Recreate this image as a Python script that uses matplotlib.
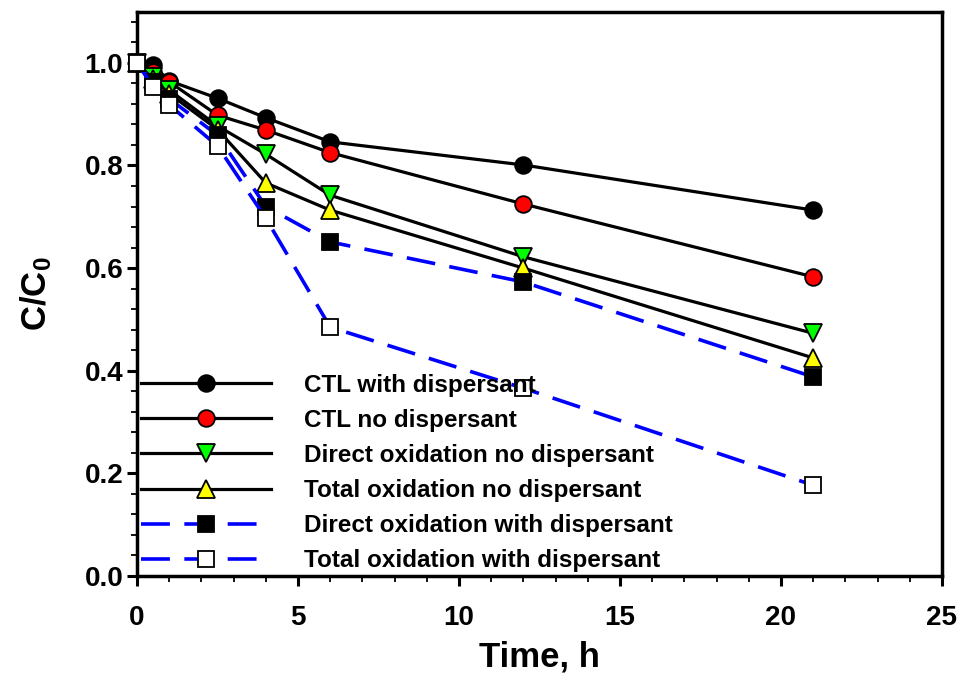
import matplotlib
matplotlib.use("Agg")
import matplotlib.pyplot as plt
from matplotlib.ticker import MultipleLocator

plt.rcParams["font.family"] = ["Liberation Sans", "DejaVu Sans"]
plt.rcParams["font.weight"] = "bold"
plt.rcParams["mathtext.fontset"] = "custom"
plt.rcParams["mathtext.rm"] = "Liberation Sans:bold"
plt.rcParams["mathtext.it"] = "Liberation Sans:bold"
plt.rcParams["mathtext.bf"] = "Liberation Sans:bold"

time_h = [0, 0.5, 1, 2.5, 4, 6, 12, 21]
ctl_with = [1.0, 0.995, 0.965, 0.931, 0.893, 0.846, 0.801, 0.713]
ctl_no = [1.0, 0.983, 0.963, 0.898, 0.869, 0.825, 0.725, 0.583]
direct_no = [1.0, 0.972, 0.947, 0.877, 0.822, 0.742, 0.622, 0.473]
total_no = [1.0, 0.968, 0.940, 0.870, 0.766, 0.713, 0.600, 0.425]
direct_with = [1.0, 0.962, 0.930, 0.859, 0.720, 0.651, 0.573, 0.388]
total_with = [1.0, 0.953, 0.918, 0.838, 0.697, 0.485, 0.366, 0.177]

labels = [
    "CTL with dispersant",
    "CTL no dispersant",
    "Direct oxidation no dispersant",
    "Total oxidation no dispersant",
    "Direct oxidation with dispersant",
    "Total oxidation with dispersant",
]

fig = plt.figure(figsize=(9.61, 6.82), dpi=100)
ax = fig.add_axes([0.1426, 0.1554, 0.8376, 0.8277])

dash = (0, (8, 4))
solid = dict(color="black", lw=2.3, mec="black", mew=1.3, clip_on=False)
dashed = dict(color="#0000ff", lw=2.6, ls=dash, mec="black", mew=1.3, clip_on=False)

ax.plot(time_h, ctl_with, marker="o", ms=12, mfc="black", label=labels[0], zorder=3, **solid)
ax.plot(time_h, ctl_no, marker="o", ms=12, mfc="#ff0000", label=labels[1], zorder=4, **solid)
ax.plot(time_h, direct_no, marker="v", ms=13, mfc="#00ff00", label=labels[2], zorder=5, **solid)
ax.plot(time_h, total_no, marker="^", ms=13, mfc="#ffff00", label=labels[3], zorder=6, **solid)
ax.plot(time_h, direct_with, marker="s", ms=11, mfc="black", label=labels[4], zorder=7, **dashed)
ax.plot(time_h, total_with, marker="s", ms=11, mfc="white", label=labels[5], zorder=8, **dashed)

ax.set_xlim(0, 25)
ax.set_ylim(0, 1.1)
ax.xaxis.set_major_locator(MultipleLocator(5))
ax.xaxis.set_minor_locator(MultipleLocator(1))
ax.set_yticks([0.0, 0.2, 0.4, 0.6, 0.8, 1.0])
ax.yaxis.set_minor_locator(MultipleLocator(0.04))
ax.set_yticklabels(["0.0", "0.2", "0.4", "0.6", "0.8", "1.0"])

for s in ax.spines.values():
    s.set_linewidth(2.5)
ax.tick_params(which="major", direction="out", length=7, width=2.2, labelsize=20)
ax.tick_params(axis="x", which="major", pad=14)
ax.tick_params(axis="y", which="major", pad=3)
ax.tick_params(which="minor", direction="out", length=4.5, width=1.3)
for lab in ax.get_xticklabels() + ax.get_yticklabels():
    lab.set_fontweight("bold")

ax.set_xlabel("Time, h", fontsize=25, fontweight="bold", labelpad=7)
ax.set_ylabel("C/C$_0$", fontsize=25, fontweight="bold", labelpad=22)

leg = ax.legend(loc="lower left", bbox_to_anchor=(0.0, 0.0),
                frameon=False, fontsize=17.5, handlelength=5.35, handletextpad=1.35,
                labelspacing=0.5, borderaxespad=0.0, borderpad=0.15)
leg.set_zorder(10)
for t in leg.get_texts():
    t.set_fontweight("bold")

fig.savefig("out.png", dpi=100)
